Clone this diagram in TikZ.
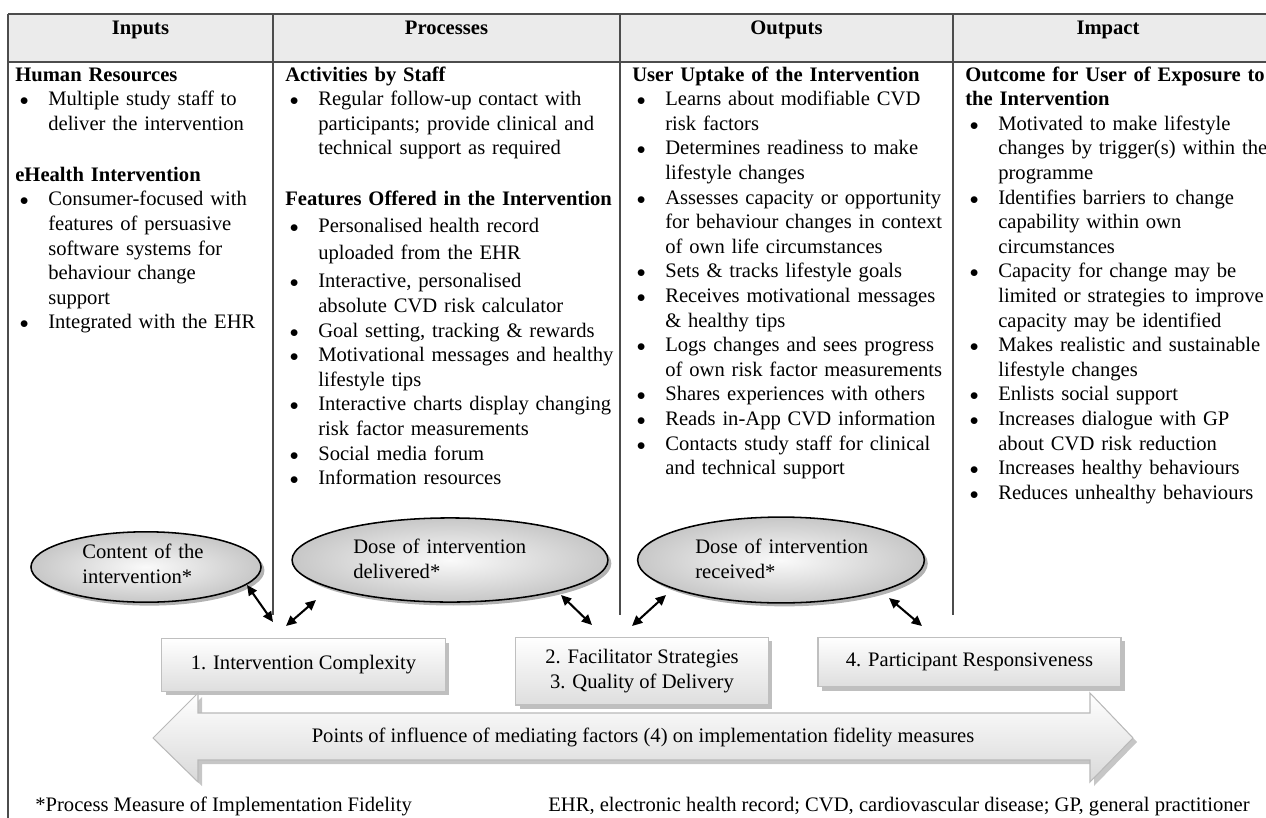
\documentclass[tikz,border=0pt]{standalone}
\usepackage{fontspec}
\setmainfont{Liberation Serif}
\usetikzlibrary{arrows.meta,shapes.geometric,shadows}
\newcommand\bl{\makebox[19.2pt][l]{\hspace{2.6pt}\scalebox{0.85}{$\bullet$}}}
\newcommand\ct{\hspace*{19.2pt}}
\begin{document}
\begin{tikzpicture}[x=0.5825pt,y=-0.5825pt,
  every node/.style={font=\fontsize{12}{14.33}\selectfont, inner sep=0pt},
  tline/.style={draw=black!70, line width=0.9pt},
  head/.style={anchor=base, font=\fontsize{12}{14.33}\selectfont\bfseries},
  col/.style={anchor=base west, text width=200pt, align=left},
  ell/.style={ellipse, draw=black, line width=0.9pt, inner color=gray!4, outer color=gray!44,
    general shadow={fill=gray!60, shadow xshift=2pt, shadow yshift=-2pt}},
  etext/.style={anchor=base west, text width=120pt, align=left},
  boxst/.style={draw=gray!50, line width=0.6pt, top color=white, bottom color=gray!26, align=center,
    general shadow={fill=gray!50, shadow xshift=2.2pt, shadow yshift=-2.2pt}},
  dbl/.style={{Triangle[length=6pt,width=5.5pt]}-{Triangle[length=6pt,width=5.5pt]}, line width=1.2pt},
  bigarrow/.style={draw=gray!55, line width=0.6pt, top color=white, bottom color=gray!30},
  note/.style={anchor=base west}
]
\useasboundingbox (0,0) rectangle (1266,818);
% header band and table lines
\fill[gray!16] (8,14) rectangle (1266,62);
\draw[tline] (8,14) -- (1266,14);
\draw[tline] (8,62) -- (1266,62);
\draw[tline] (8,14) -- (8,818);
\draw[tline] (273,14) -- (273,615);
\draw[tline] (620,14) -- (620,615);
\draw[tline] (953,14) -- (953,615);
% headers
\node[head] (hin) at (140.5,34) {Inputs};
\node[head] (hpr) at (446.5,34) {Processes};
\node[head] (hout) at (786.5,34) {Outputs};
\node[head] (himp) at (1108,34) {Impact};
% column texts
\node[col] (c1) at (15,81) {\textbf{Human Resources}\\
\bl Multiple study staff to\\
\ct deliver the intervention\\[15.4pt]
\textbf{eHealth Intervention}\\
\bl Consumer-focused with\\
\ct features of persuasive\\
\ct software systems for\\
\ct behaviour change\\
\ct support\\
\bl Integrated with the EHR};
\node[col] (c2) at (285,81) {\textbf{Activities by Staff}\\
\bl Regular follow-up contact with\\
\ct participants; provide clinical and\\
\ct technical support as required\\[15.4pt]
\textbf{Features Offered in the Intervention}\\[1.4pt]
\bl Personalised health record\\[1.4pt]
\ct uploaded from the EHR\\[2pt]
\bl Interactive, personalised\\
\ct absolute CVD risk calculator\\
\bl Goal setting, tracking \& rewards\\
\bl Motivational messages and healthy\\
\ct lifestyle tips\\
\bl Interactive charts display changing\\
\ct risk factor measurements\\
\bl Social media forum\\
\bl Information resources};
\node[col] (c3) at (632,81) {\textbf{User Uptake of the Intervention}\\
\bl Learns about modifiable CVD\\
\ct risk factors\\
\bl Determines readiness to make\\
\ct lifestyle changes\\
\bl Assesses capacity or opportunity\\
\ct for behaviour changes in context\\
\ct of own life circumstances\\
\bl Sets \& tracks lifestyle goals\\
\bl Receives motivational messages\\
\ct \& healthy tips\\
\bl Logs changes and sees progress\\
\ct of own risk factor measurements\\
\bl Shares experiences with others\\
\bl Reads in-App CVD information\\
\bl Contacts study staff for clinical\\
\ct and technical support};
\node[col] (c4) at (965,81) {\textbf{Outcome for User of Exposure to}\\
\textbf{the Intervention}\\
\bl Motivated to make lifestyle\\
\ct changes by trigger(s) within the\\
\ct programme\\
\bl Identifies barriers to change\\
\ct capability within own\\
\ct circumstances\\
\bl Capacity for change may be\\
\ct limited or strategies to improve\\
\ct capacity may be identified\\
\bl Makes realistic and sustainable\\
\ct lifestyle changes\\
\bl Enlists social support\\
\bl Increases dialogue with GP\\
\ct about CVD risk reduction\\
\bl Increases healthy behaviours\\
\bl Reduces unhealthy behaviours};
% ellipses
\node[ell, minimum width=134pt, minimum height=41pt] (e1) at (146,567) {};
\node[etext] (e1t) at (82,558.5) {Content of the\\intervention*};
\node[ell, minimum width=184pt, minimum height=49pt] (e2) at (450,560) {};
\node[etext] (e2t) at (353,553.5) {Dose of intervention\\delivered*};
\node[ell, minimum width=167pt, minimum height=50pt] (e3) at (781,560) {};
\node[etext] (e3t) at (695,553.5) {Dose of intervention\\received*};
% boxes
\node[boxst, minimum width=165pt, minimum height=30.5pt] (b1) at (303.5,665) {1. Intervention Complexity};
\node[boxst, minimum width=147pt, minimum height=39.6pt] (b2) at (642,671) {2. Facilitator Strategies\\3. Quality of Delivery};
\node[boxst, minimum width=176.5pt, minimum height=29pt] (b3) at (969.5,662) {4. Participant Responsiveness};
% arrow end points
\coordinate (a1s) at (247,585); \coordinate (a1e) at (273,622);
\coordinate (a2s) at (316,600); \coordinate (a2e) at (286,626);
\coordinate (a3s) at (561,595); \coordinate (a3e) at (592,625);
\coordinate (a4s) at (666,595); \coordinate (a4e) at (632,626);
\coordinate (a5s) at (889,598); \coordinate (a5e) at (922,626);
\draw[dbl] (a1s) -- (a1e);
\draw[dbl] (a2s) -- (a2e);
\draw[dbl] (a3s) -- (a3e);
\draw[dbl] (a4s) -- (a4e);
\draw[dbl] (a5s) -- (a5e);
% big double arrow
\fill[gray!45] (157,742) -- (202,697) -- (202,717) -- (1094,717) -- (1094,697) -- (1137,742) -- (1094,786) -- (1094,764) -- (202,764) -- (202,786) -- cycle;
\path[bigarrow] (153,738) -- (198,693) -- (198,713) -- (1090,713) -- (1090,693) -- (1133,738) -- (1090,782) -- (1090,760) -- (198,760) -- (198,782) -- cycle;
\node (bigt) at (643,737) {Points of influence of mediating factors (4) on implementation fidelity measures};
% footnotes
\node[note] (fn1) at (35,811) {*Process Measure of Implementation Fidelity};
\node[note] (fn2) at (548,811) {EHR, electronic health record; CVD, cardiovascular disease; GP, general practitioner};
\end{tikzpicture}
\end{document}
